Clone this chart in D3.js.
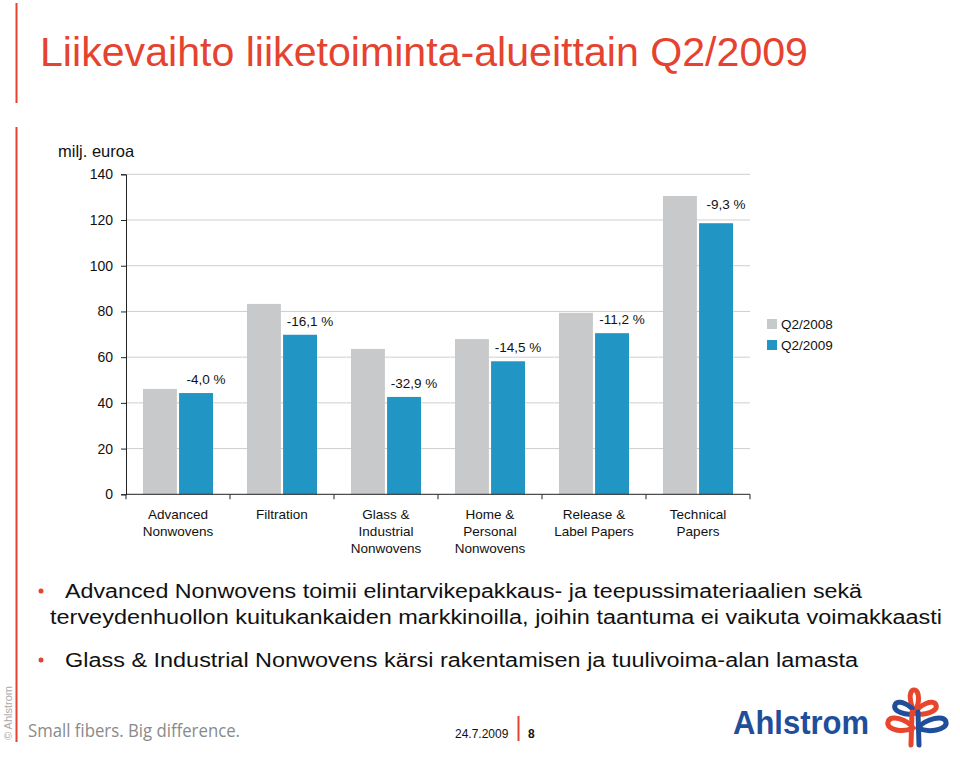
<!DOCTYPE html>
<html><head><meta charset="utf-8">
<script src="https://cdn.jsdelivr.net/npm/d3@7"></script>
<style>
html,body{margin:0;padding:0;background:#fff;}
svg{display:block;font-family:"Liberation Sans",Arial,Helvetica,sans-serif;}
</style></head>
<body>
<svg id="c" width="960" height="757"></svg>
<script>
const categories = [["Advanced","Nonwovens"],["Filtration"],["Glass &","Industrial","Nonwovens"],["Home &","Personal","Nonwovens"],["Release &","Label Papers"],["Technical","Papers"]];
const seriesNames = ["Q2/2008","Q2/2009"];
const q2008 = [46.1, 83.3, 63.6, 67.9, 79.4, 130.5];
const q2009 = [44.3, 69.8, 42.6, 58.2, 70.5, 118.6];
const changeLabels = ["-4,0 %","-16,1 %","-32,9 %","-14,5 %","-11,2 %","-9,3 %"];
const yTicks = [0,20,40,60,80,100,120,140];
const colors = ["#c8c9cb","#2196c4"];
const red = "#e5432f";

const svg = d3.select("#c");

// decorative red lines
svg.append("line").attr("x1",16.5).attr("x2",16.5).attr("y1",3).attr("y2",103).attr("stroke",red).attr("stroke-width",2);
svg.append("line").attr("x1",16.5).attr("x2",16.5).attr("y1",127).attr("y2",742).attr("stroke",red).attr("stroke-width",2);

// title
svg.append("text").attr("x",40).attr("y",66).attr("fill",red).attr("font-size",41)
  .attr("textLength",768).attr("lengthAdjust","spacingAndGlyphs")
  .text("Liikevaihto liiketoiminta-alueittain Q2/2009");

// chart
const x0 = d3.scaleBand().domain(d3.range(categories.length)).range([126, 750]).paddingInner(0).paddingOuter(0);
const x1 = d3.scaleBand().domain([0,1]).range([17, x0.bandwidth()-17]).paddingInner(0.06);
const y = d3.scaleLinear().domain([0,140]).range([494.3,174.3]);

svg.append("text").attr("x",58).attr("y",157).attr("font-size",16.5).attr("fill","#111").text("milj. euroa");

// gridlines
svg.append("g").selectAll("line").data(yTicks.filter(d=>d>0)).join("line")
  .attr("x1",126).attr("x2",750).attr("y1",d=>y(d)).attr("y2",d=>y(d))
  .attr("stroke","#cfcfcf").attr("stroke-width",1);

// bars
const data = [q2008, q2009];
const g = svg.append("g");
categories.forEach((c,i)=>{
  data.forEach((s,k)=>{
    g.append("rect").attr("x",x0(i)+x1(k)).attr("width",x1.bandwidth())
      .attr("y",y(s[i])).attr("height",y(0)-y(s[i])).attr("fill",colors[k]);
  });
  const off = i===5 ? 14 : 9;
  g.append("text").attr("x",x0(i)+x1(1)+x1.bandwidth()/2+10).attr("y",y(q2009[i])-off)
    .attr("text-anchor","middle").attr("font-size",13.5).attr("fill","#111").text(changeLabels[i]);
});

// y axis
const ya = svg.append("g").attr("transform","translate(126,0)")
  .call(d3.axisLeft(y).tickValues(yTicks).tickSize(5).tickPadding(8));
ya.select(".domain").attr("stroke","#222");
ya.selectAll(".tick line").attr("stroke","#222");
ya.selectAll("text").attr("font-size",14).attr("fill","#111").attr("font-family","Liberation Sans, Arial, sans-serif");

// x axis
const xa = svg.append("g").attr("transform",`translate(0,${y(0)})`);
xa.append("line").attr("x1",126).attr("x2",750).attr("y1",0).attr("y2",0).attr("stroke","#222");
xa.selectAll("line.tk").data(d3.range(categories.length+1)).join("line").attr("class","tk")
  .attr("x1",d=>126+d*x0.bandwidth()).attr("x2",d=>126+d*x0.bandwidth()).attr("y1",0).attr("y2",5).attr("stroke","#222");
categories.forEach((c,i)=>{
  const t = xa.append("text").attr("text-anchor","middle").attr("font-size",13.5).attr("fill","#111");
  c.forEach((ln,j)=>{
    t.append("tspan").attr("x",x0(i)+x0.bandwidth()/2).attr("y",25+j*17).text(ln);
  });
});

// legend
seriesNames.forEach((n,k)=>{
  svg.append("rect").attr("x",767).attr("y",319+k*21).attr("width",10).attr("height",10).attr("fill",colors[k]);
  svg.append("text").attr("x",781).attr("y",329+k*21).attr("font-size",13.5).attr("fill","#111").text(n);
});

// bullets
const bullets = [
  {bx:38, x:65, y:598, t:"Advanced Nonwovens toimii elintarvikepakkaus- ja teepussimateriaalien sekä", len:797},
  {bx:null, x:50, y:624, t:"terveydenhuollon kuitukankaiden markkinoilla, joihin taantuma ei vaikuta voimakkaasti", len:892},
  {bx:38, x:65, y:667, t:"Glass & Industrial Nonwovens kärsi rakentamisen ja tuulivoima-alan lamasta", len:793}
];
bullets.forEach(b=>{
  if(b.bx!==null) svg.append("circle").attr("cx",b.bx+3).attr("cy",b.y-7).attr("r",2.5).attr("fill",red);
  svg.append("text").attr("x",b.x).attr("y",b.y).attr("font-size",20).attr("fill","#111")
    .attr("textLength",b.len).attr("lengthAdjust","spacingAndGlyphs").text(b.t);
});

// footer
svg.append("text").attr("transform","translate(12,740) rotate(-90)").attr("font-size",11).attr("fill","#aaa").text("© Ahlstrom");
svg.append("text").attr("x",28).attr("y",737).attr("font-size",19).attr("fill","#8a8a8a")
  .attr("font-family","Open Sans, sans-serif").attr("textLength",212).attr("lengthAdjust","spacingAndGlyphs")
  .text("Small fibers. Big difference.");
svg.append("text").attr("x",455).attr("y",738).attr("font-size",12).attr("fill","#111").text("24.7.2009");
svg.append("line").attr("x1",518.5).attr("x2",518.5).attr("y1",716).attr("y2",741).attr("stroke",red).attr("stroke-width",2);
svg.append("text").attr("x",528).attr("y",738).attr("font-size",12).attr("font-weight","bold").attr("fill","#111").text("8");

// logo
svg.append("text").attr("x",733).attr("y",734).attr("font-size",33).attr("font-weight","bold").attr("fill","#1f4e9a")
  .attr("textLength",136).attr("lengthAdjust","spacingAndGlyphs").text("Ahlstrom");
const lg = svg.append("g").attr("fill","none").attr("stroke-width",5).attr("stroke-linecap","round").attr("stroke-linejoin","round");
function loop(ox,oy,tx,ty,w){
  const dx=tx-ox, dy=ty-oy, L=Math.hypot(dx,dy), nx=-dy/L*w, ny=dx/L*w;
  return `M${ox},${oy} C${ox+dx*0.3+nx},${oy+dy*0.3+ny} ${tx+nx*1.2},${ty+ny*1.2} ${tx},${ty} C${tx-nx*1.2},${ty-ny*1.2} ${ox+dx*0.3-nx},${oy+dy*0.3-ny} ${ox},${oy}`;
}
const blue="#1f4e9a", red2="#e8462c";
lg.append("path").attr("stroke",red2).attr("d",loop(915,711,914,690,5));
lg.append("path").attr("stroke",blue).attr("d",loop(915,713,895,705,6));
lg.append("path").attr("stroke",red2).attr("d",loop(915,713,936,705,6));
lg.append("path").attr("stroke",red2).attr("d",loop(913,728,888,722,7));
lg.append("path").attr("stroke",blue).attr("d",loop(918,728,946,722,7));
lg.append("path").attr("stroke",red2).attr("d","M912,712 L911,745");
lg.append("path").attr("stroke",blue).attr("d","M918,712 L919,745");
</script>
</body></html>
